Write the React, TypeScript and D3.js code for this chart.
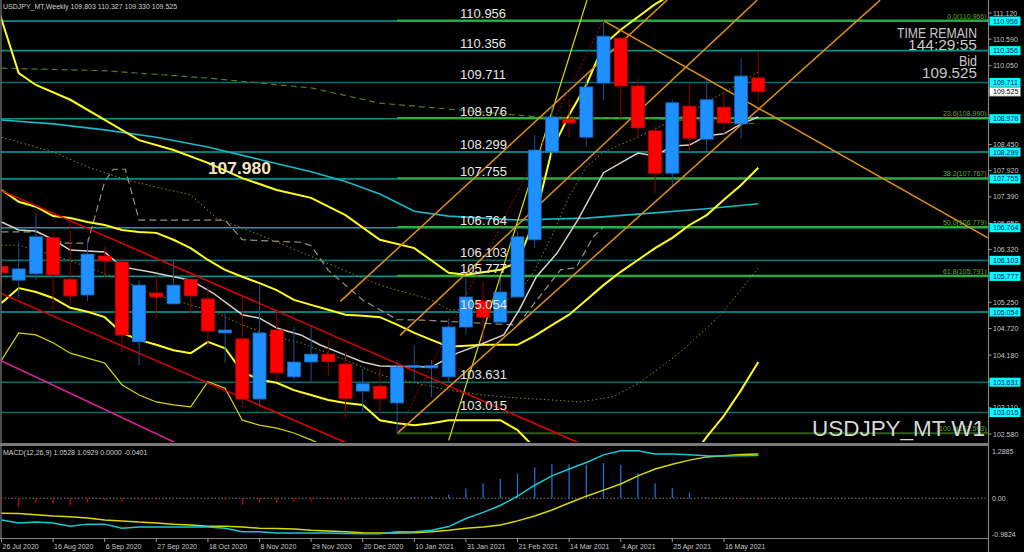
import React from "react";
import * as d3 from "d3";

// ---------------- DATA ----------------
const titleText = "USDJPY_MT,Weekly  109.803 110.327 109.330 109.525";
const macdTitle = "MACD(12,26,9) 1.0528 1.0929 0.0000 -0.0401";
const symbolBig = "USDJPY_MT W1";
const infoLines = ["TIME REMAIN", "144:29:55", "Bid", "109.525"];

// one weekly bar per entry, bar 0 = 26 Jul 2020
const opens = [105.98,105.70,105.83,106.56,105.72,105.40,106.19,106.07,104.45,105.44,105.22,105.72,105.32,104.63,104.51,103.29,104.69,103.74,104.04,104.20,104.00,103.45,103.55,103.21,103.93,103.92,103.74,104.75,105.28,104.85,105.36,106.52,108.30,108.97,108.60,109.70,110.61,109.64,108.73,107.87,109.23,108.56,109.21,108.87,109.803];
const highs = [106.10,106.47,107.06,106.66,106.92,106.53,106.37,106.17,105.70,105.80,106.11,105.72,105.58,105.03,105.36,105.60,105.14,104.75,104.75,104.50,104.22,103.90,103.90,104.08,104.38,104.08,104.93,105.75,105.66,105.75,106.68,108.64,109.23,109.37,109.84,110.966,110.61,109.78,108.81,109.36,109.70,109.76,109.50,110.20,110.327];
const lows = [105.60,105.34,105.70,105.10,105.20,105.28,105.77,104.24,103.98,104.93,105.22,105.03,104.32,104.02,103.13,103.17,103.64,103.68,103.65,103.75,102.90,103.00,102.96,102.593,103.62,103.33,103.62,104.59,104.45,104.85,105.36,106.35,108.22,108.60,108.40,109.36,108.99,108.60,107.47,107.63,108.30,108.32,108.65,108.56,109.330];
const closes = [105.85,105.93,106.58,105.81,105.38,106.23,106.09,104.59,105.60,105.36,105.60,105.38,104.67,104.69,103.29,104.63,103.82,104.04,104.20,104.05,103.30,103.60,103.30,103.94,103.97,103.97,104.75,105.36,104.95,105.46,106.58,108.34,109.01,108.89,109.62,110.65,109.64,108.79,107.87,109.30,108.58,109.36,108.89,109.84,109.525];

const dateTicks = ["26 Jul 2020","16 Aug 2020","6 Sep 2020","27 Sep 2020","18 Oct 2020","8 Nov 2020","29 Nov 2020","20 Dec 2020","10 Jan 2021","31 Jan 2021","21 Feb 2021","14 Mar 2021","4 Apr 2021","25 Apr 2021","16 May 2021"];

const priceTicks = [111.12,110.59,110.05,109.52,108.98,108.45,107.92,107.39,106.85,106.32,105.79,105.25,104.72,104.18,103.65,103.11,102.58];

const levelPrices = [110.956,110.356,109.711,108.976,108.299,107.755,106.764,106.103,105.777,105.054,103.631,103.015];
const bidPrice = 109.525;
const fibLevels = ["0.0","23.6","38.2","50.0","61.8","100.0"];
const fibPrices = [110.966,108.990,107.767,106.779,105.791,102.593];
const fibStartBar = 23;
const pivotLabel = "107.980";

// indicator lines: [bar, price]
const bandUpper: [number, number][] = [[-0.1,111.1],[1,109.9],[2,109.66],[4,109.36],[6,108.95],[8,108.54],[10,108.34],[12,108.08],[14,107.77],[16,107.53],[18,107.37],[20,107.02],[22,106.52],[24,106.35],[26,105.85],[27,105.81],[29,105.91],[30,106.07],[31,106.92],[32,108.34],[33,109.05],[34,109.66],[35,110.47],[36,110.78],[37,111.04],[38,111.3],[39,111.5]];
const bandMiddle: [number, number][] = [[0,107.53],[1,107.29],[2,107.19],[3,107.0],[4,106.96],[5,106.88],[6,106.82],[7,106.72],[8,106.68],[9,106.66],[10,106.52],[11,106.35],[12,106.11],[13,105.91],[14,105.77],[15,105.64],[16,105.5],[17,105.3],[18,105.2],[19,105.1],[20,105.0],[21,104.98],[22,104.95],[23,104.8],[24,104.63],[25,104.49],[26,104.35],[27,104.37],[28,104.39],[29,104.39],[30,104.39],[31,104.57],[32,104.79],[33,105.0],[34,105.3],[35,105.6],[36,105.87],[37,106.11],[38,106.35],[39,106.56],[40,106.82],[41,107.02],[42,107.33],[43,107.63],[44,107.98]];
const bandLower: [number, number][] = [[0,105.24],[1,105.54],[2,105.46],[3,105.34],[4,105.14],[5,105.06],[6,104.95],[7,104.63],[8,104.49],[9,104.39],[10,104.28],[11,104.22],[12,104.45],[13,104.32],[14,103.84],[15,103.68],[16,103.62],[17,103.47],[18,103.37],[19,103.27],[20,103.21],[21,103.17],[22,102.86],[23,102.8],[24,102.76],[25,102.8],[26,102.86],[27,102.86],[28,102.86],[29,102.86],[30,102.66],[31,102.3],[32,101.9],[33,101.6],[34,101.4],[35,101.3],[36,101.3],[37,101.4],[38,101.5],[39,101.65],[40,102.05],[41,102.52],[42,102.95],[43,103.47],[44,104.04]];
const envLower: [number, number][] = [[0,104.08],[1,104.63],[2,104.59],[3,104.43],[4,104.22],[5,104.12],[6,104.02],[7,103.58],[8,103.37],[9,103.23],[10,103.17],[11,103.13],[12,103.64],[13,103.51],[14,102.86],[15,102.76],[16,102.7],[17,102.6],[18,102.46],[19,102.3],[20,102.1]];
const envUpperSteep: [number, number][] = [[26,102.45],[30.03,106.92],[34.04,111.38]];
const maCyan: [number, number][] = [[0,108.95],[3,108.87],[6,108.75],[9,108.6],[12,108.4],[15,108.15],[18,107.9],[20,107.7],[22,107.45],[24,107.1],[26,107.0],[30,106.92],[34,106.96],[37,107.04],[41,107.15],[44,107.25]];
const maGreen: [number, number][] = [[0,110.0],[6,109.95],[12,109.8],[18,109.6],[22,109.29],[26.7,109.15],[31.3,109.01],[37,108.99],[44,108.87]];
const maBeige: [number, number][] = [[0,106.88],[1,106.72],[2,106.70],[3,106.52],[4,106.31],[6,106.27],[7,105.97],[8.6,105.87],[10,105.77],[11,105.70],[12.3,105.44],[14,105.0],[15,104.93],[16,104.73],[17.4,104.59],[18.5,104.39],[20,104.18],[21,104.04],[22,103.96],[25,103.94],[26.5,104.22],[27.8,104.39],[29.2,104.59],[30.1,105.1],[31.1,105.77],[32.3,106.25],[33.5,106.92],[35,107.88],[37,108.28],[38,108.22],[39,108.42],[40,108.44],[41,108.63],[42,108.67],[43,108.87],[44,109.01]];
const dotLower: [number, number][] = [[0,106.41],[1,106.41],[3,106.21],[5,105.97],[7,105.70],[8.6,105.44],[10.6,105.24],[12.5,105.04],[14,104.79],[15.8,104.55],[17.4,104.43],[20,104.08],[22,103.78],[24,103.62],[26,103.47],[28,103.37],[30,103.31],[32,103.27],[33.6,103.23],[35.5,103.33],[37.1,103.62],[39.4,104.22],[41.8,104.99],[44,105.95]];
const dotUpper: [number, number][] = [[0,108.6],[3,108.3],[5,108.0],[7.3,107.73],[11,107.43],[12.5,106.96],[15,106.62],[17.4,106.27],[22,105.6],[25,105.3],[26,105.1],[28,105.1],[30,105.4],[31,105.9],[32,106.6],[33,107.4],[34,108.0],[35,108.3],[37,108.6],[40,109.1],[44,109.92]];
const kijunDash: [number, number][] = [[0,106.68],[2,106.68],[3.6,106.45],[5,106.45],[6,107.7],[6.5,107.95],[7.2,107.95],[8,106.92],[13,106.92],[14,106.52],[17.4,106.47],[18,106.4],[19,105.9],[20,105.6],[21,105.3],[22,105.1],[23,104.9],[24.5,104.89],[30,104.79],[32.5,105.91],[33.4,105.95],[34.4,106.58],[35,106.78]];

const redChannelUpper: [number, number][] = [[-0.1,107.53],[40,101.42]];
const redChannelLower: [number, number][] = [[-0.1,105.44],[30,100.9]];
const magentaLine: [number, number][] = [[-0.1,104.08],[15,101.6]];
const orangeA: [number, number][] = [[19.7,105.27],[38.69,111.38]];
const orangeB: [number, number][] = [[23.17,104.58],[43.93,111.38]];
const orangeC: [number, number][] = [[23,102.593],[51.08,111.38]];
const orangeD: [number, number][] = [[35,110.966],[57.35,106.56]];
const redDotted: [number, number][] = [[23,102.593],[35,110.966]];

const macdMain = [-0.54,-0.61,-0.59,-0.61,-0.69,-0.64,-0.64,-0.74,-0.71,-0.71,-0.71,-0.71,-0.71,-0.74,-0.83,-0.83,-0.86,-0.86,-0.86,-0.86,-0.87,-0.88,-0.88,-0.83,-0.83,-0.79,-0.70,-0.50,-0.35,-0.18,0.05,0.32,0.55,0.72,0.88,1.07,1.17,1.17,1.09,1.09,1.07,1.05,1.04,1.05,1.0528];
const macdSignal = [-0.37,-0.38,-0.41,-0.44,-0.46,-0.49,-0.54,-0.56,-0.59,-0.61,-0.64,-0.66,-0.69,-0.69,-0.71,-0.74,-0.75,-0.76,-0.79,-0.81,-0.83,-0.85,-0.86,-0.86,-0.85,-0.83,-0.79,-0.74,-0.71,-0.66,-0.56,-0.44,-0.29,-0.12,0.05,0.20,0.35,0.55,0.72,0.84,0.94,1.02,1.05,1.08,1.0929];
const macdHist = [-0.06,-0.21,-0.11,-0.13,-0.18,-0.1,-0.05,-0.1,-0.04,-0.05,-0.01,-0.01,-0.03,-0.05,-0.16,-0.1,-0.11,-0.1,-0.08,-0.03,-0.05,-0.02,0.01,0.02,0.03,0.04,0.09,0.24,0.36,0.48,0.61,0.76,0.84,0.84,0.83,0.87,0.82,0.62,0.37,0.25,0.13,0.03,-0.01,-0.03,-0.0401];
const macdTicks = ["1.2885", "0.00", "-0.9824"];
const macdTickValues = [1.2885, 0, -0.9824];

// ---------------- COMPONENT ----------------
export default function App() {
  React.useEffect(() => {
    document.body.style.margin = "0";
    document.body.style.background = "#000";
  }, []);

  const x = d3.scaleLinear().domain([0, 44]).range([1.5, 758.3]);
  const y = d3.scaleLinear().domain([102.58, 111.12]).range([434, 13]);
  const my = d3.scaleLinear().domain([-0.9824, 1.2885]).range([538, 446]);
  const line = d3.line<[number, number]>().x((d) => x(d[0])).y((d) => y(d[1]));
  const mline = d3.line<number>().x((_, i) => x(i)).y((d) => my(d));

  const axisX = 988.5;
  const font = "'Liberation Sans', Arial, sans-serif";
  const bodyW = 13;

  const levelStyle = (p: number) => {
    const dark = [109.711, 106.103, 103.631, 103.015];
    const light = [108.299, 106.764, 105.054];
    if (dark.includes(p)) return "#0b6a6e";
    if (light.includes(p)) return "#10a3a6";
    return "#0d8a8c";
  };

  const path = (d: [number, number][], stroke: string, w: number, dash?: string) => (
    <path d={line(d) || ""} fill="none" stroke={stroke} strokeWidth={w} strokeDasharray={dash} />
  );

  const infoY = [38, 50, 66, 78];
  const infoW = [80, 69, 18, 55];

  return (
    <svg width={1024} height={552} style={{ position: "fixed", left: 0, top: 0, background: "#000" }} fontFamily={font}>
      <defs>
        <clipPath id="mainClip"><rect x={1} y={0} width={axisX - 1} height={442} /></clipPath>
        <clipPath id="macdClip"><rect x={1} y={446} width={axisX - 1} height={92} /></clipPath>
      </defs>
      <rect x={0} y={0} width={1024} height={552} fill="#000" />

      <g clipPath="url(#mainClip)">
        {levelPrices.map((p) => (
          <line key={"lv" + p} x1={0} x2={axisX} y1={y(p)} y2={y(p)} stroke={levelStyle(p)} strokeWidth={1.6} />
        ))}
        {fibPrices.map((p, i) => (
          <line key={"fb" + i} x1={x(fibStartBar)} x2={axisX} y1={y(p)} y2={y(p)} stroke={i === 5 ? "#2e5c14" : "#2fae3a"} strokeWidth={2} />
        ))}

        {path(dotUpper, "#8c8c10", 1, "1.5,2.5")}
        {path(dotLower, "#8c8c10", 1, "1.5,2.5")}
        {path(kijunDash, "#9c9080", 1.2, "7,4")}
        {path(maGreen, "#4e7d1c", 1.2, "6,4")}
        {path(maCyan, "#1bb8c8", 1.6)}
        {path(envLower, "#d6d600", 1.2)}
        {path(envUpperSteep, "#e0e000", 1.2)}
        {path(bandUpper, "#ffff1a", 2)}
        {path(bandMiddle, "#ffff1a", 2)}
        {path(bandLower, "#ffff1a", 2)}
        {path(maBeige, "#d9cfc4", 1.5)}

        {path(redChannelUpper, "#e60000", 1.5)}
        {path(redChannelLower, "#e60000", 1.5)}
        {path(magentaLine, "#e0209c", 1.5)}
        {path(orangeA, "#e0901a", 1.5)}
        {path(orangeB, "#e0901a", 1.5)}
        {path(orangeC, "#e0901a", 1.5)}
        {path(orangeD, "#e0901a", 1.5)}
        {path(redDotted, "#b00000", 1, "2,2")}

        {opens.map((o, i) => {
          const c = closes[i];
          const up = c >= o;
          const top = y(Math.max(o, c));
          const bot = y(Math.min(o, c));
          return (
            <g key={"c" + i}>
              <line x1={x(i)} x2={x(i)} y1={y(highs[i])} y2={y(lows[i])} stroke={up ? "#1d4f93" : "#8e0000"} strokeWidth={1} />
              <rect x={x(i) - bodyW / 2} y={top} width={bodyW} height={Math.max(1.5, bot - top)} fill={up ? "#1e90ff" : "#ff0000"} stroke={up ? "#1565c0" : "#c00000"} strokeWidth={0.8} />
            </g>
          );
        })}

        {levelPrices.map((p) => (
          <text key={"lt" + p} x={x(26.66)} y={y(p) - 3} fill="#e8e8e8" fontSize={13}>{p.toFixed(3)}</text>
        ))}
        <text x={x(12)} y={y(107.98) + 6} fill="#f3e6c4" fontSize={16} fontWeight="bold" textLength={63} lengthAdjust="spacingAndGlyphs">{pivotLabel}</text>

        {fibPrices.map((p, i) => (
          <text key={"fl" + i} x={axisX - 2} y={y(p) - 2} fill="#62a82a" fontSize={7} textAnchor="end">{`${fibLevels[i]}(${p.toFixed(3)})`}</text>
        ))}

        {infoLines.map((t, i) => (
          <text key={"in" + i} x={977 - infoW[i]} y={infoY[i]} fill="#c8c8c8" fontSize={15} textLength={infoW[i]} lengthAdjust="spacingAndGlyphs">{t}</text>
        ))}
        <text x={812} y={436} fill="#d8d8d8" fontSize={22} textLength={173} lengthAdjust="spacingAndGlyphs">{symbolBig}</text>
      </g>

      <text x={3} y={9} fill="#d0d0d0" fontSize={7}>{titleText}</text>

      <line x1={1} x2={1} y1={0} y2={538} stroke="#808080" strokeWidth={1.2} />
      <rect x={0} y={443} width={axisX} height={3} fill="#7a7a7a" />
      <line x1={0} x2={axisX} y1={538.5} y2={538.5} stroke="#808080" strokeWidth={1.2} />
      <line x1={axisX} x2={axisX} y1={0} y2={552} stroke="#808080" strokeWidth={1.2} />

      {priceTicks.map((p) => (
        <g key={"pt" + p}>
          <line x1={axisX} x2={axisX + 3} y1={y(p)} y2={y(p)} stroke="#a0a0a0" />
          <text x={993} y={y(p) + 2.5} fill="#c8c8c8" fontSize={7}>{p.toFixed(3)}</text>
        </g>
      ))}
      {levelPrices.map((p) => (
        <g key={"bx" + p}>
          <rect x={axisX + 1} y={y(p) - 4.5} width={31} height={9} fill="#00ffff" />
          <text x={993} y={y(p) + 2.5} fill="#101060" fontSize={7}>{p.toFixed(3)}</text>
        </g>
      ))}
      <rect x={axisX + 1} y={y(bidPrice) - 4.5} width={31} height={9} fill="#ffffff" stroke="#808080" strokeWidth={0.8} />
      <text x={993} y={y(bidPrice) + 2.5} fill="#000" fontSize={7}>{bidPrice.toFixed(3)}</text>

      <text x={3} y={455} fill="#d0d0d0" fontSize={7}>{macdTitle}</text>
      <line x1={1} x2={axisX} y1={my(0)} y2={my(0)} stroke="#808080" strokeWidth={1} strokeDasharray="1.5,2" />
      <g clipPath="url(#macdClip)">
        {macdHist.map((v, i) => (
          <line key={"h" + i} x1={x(i)} x2={x(i)} y1={my(0)} y2={my(v)} stroke={v >= 0 ? "#1e78e0" : "#e00000"} strokeWidth={1.2} />
        ))}
        <path d={mline(macdSignal) || ""} fill="none" stroke="#d8d800" strokeWidth={1.5} />
        <path d={mline(macdMain) || ""} fill="none" stroke="#17c8d2" strokeWidth={1.5} />
      </g>
      {macdTicks.map((t, i) => (
        <text key={"mt" + i} x={992} y={i === 0 ? 454 : i === 2 ? 537 : my(macdTickValues[i]) + 2.5} fill="#c8c8c8" fontSize={7}>{t}</text>
      ))}

      {dateTicks.map((t, i) => (
        <g key={"dt" + i}>
          <line x1={x(i * 3)} x2={x(i * 3)} y1={538} y2={542} stroke="#a0a0a0" />
          <text x={x(i * 3) + 1} y={549} fill="#c8c8c8" fontSize={7}>{t}</text>
        </g>
      ))}
    </svg>
  );
}
